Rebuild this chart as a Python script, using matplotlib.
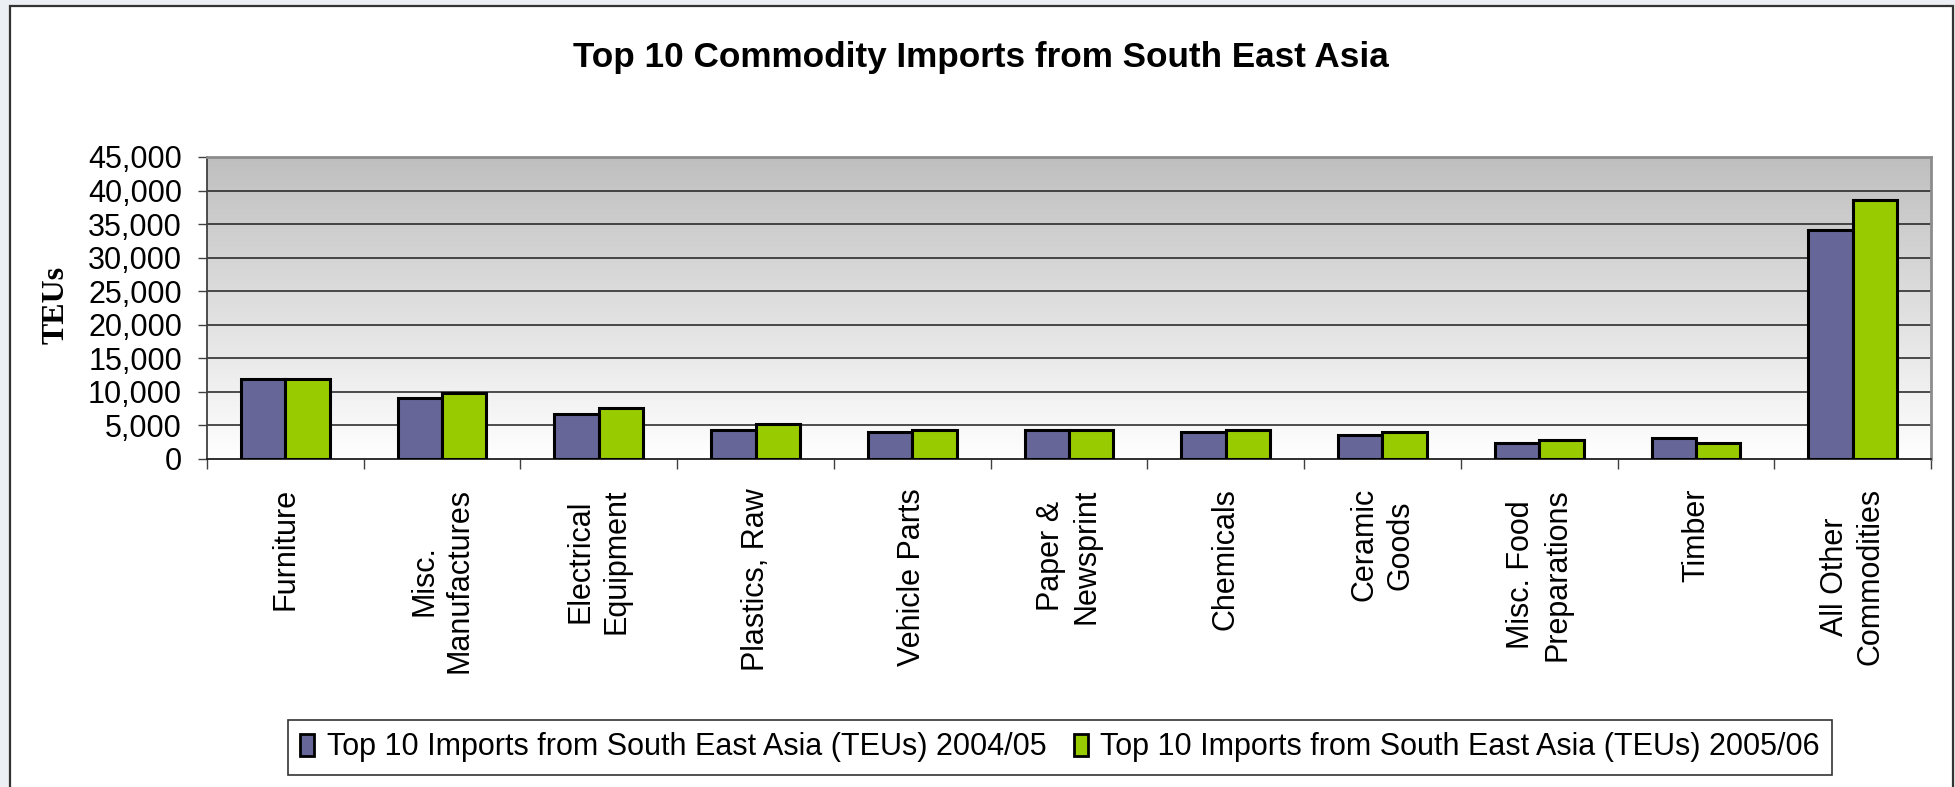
import matplotlib
matplotlib.use("Agg")
import matplotlib.pyplot as plt
import numpy as np
from matplotlib.patches import Rectangle
from matplotlib.colors import LinearSegmentedColormap
from matplotlib.ticker import FuncFormatter, FixedLocator

# ---------------- data ----------------
categories = ["Furniture", "Misc.\nManufactures", "Electrical\nEquipment", "Plastics, Raw",
              "Vehicle Parts", "Paper &\nNewsprint", "Chemicals", "Ceramic\nGoods",
              "Misc. Food\nPreparations", "Timber", "All Other\nCommodities"]
teu_2004_05 = [11900, 9150, 6700, 4300, 3950, 4350, 3950, 3550, 2350, 3150, 34150]
teu_2005_06 = [11900, 9900, 7550, 5150, 4350, 4350, 4350, 3950, 2800, 2350, 38550]
series_labels = ["Top 10 Imports from South East Asia (TEUs) 2004/05",
                 "Top 10 Imports from South East Asia (TEUs) 2005/06"]
title = "Top 10 Commodity Imports from South East Asia"
ylabel = "TEUs"
y_ticks = [0, 5000, 10000, 15000, 20000, 25000, 30000, 35000, 40000, 45000]

# ---------------- style ----------------
W, H = 1955, 787
DPI = 100
C1, C2 = "#666699", "#99CC00"
SANS = ["Liberation Sans", "DejaVu Sans"]
SERIF = ["Liberation Serif", "DejaVu Serif"]
plt.rcParams["font.family"] = SANS

fig = plt.figure(figsize=(W / DPI, H / DPI), dpi=DPI)
fig.patch.set_facecolor("#ECEFF3")

def fx(px):
    return px / W

def fy(py):
    return 1 - py / H

# chart border (white area with dark frame)
fig.patches.append(Rectangle((fx(10), fy(800)), fx(1953) - fx(10), fy(6) - fy(800),
                             transform=fig.transFigure, facecolor="white",
                             edgecolor="#333333", linewidth=1.6, zorder=-10))

ax = fig.add_axes([fx(207), fy(459), fx(1931) - fx(207), fy(157) - fy(459)])
ax.set_facecolor("none")
ax.set_zorder(1)

# gradient background
cmap = LinearSegmentedColormap.from_list("g", ["#FFFFFF", "#BFBFBF"])
grad = np.linspace(0, 1, 256).reshape(-1, 1)
ax.imshow(grad, extent=[0, 1, 0, 1], transform=ax.transAxes, origin="lower",
          aspect="auto", cmap=cmap, zorder=0)

x = np.arange(len(categories))
bw = 0.283
ax.bar(x - bw / 2, teu_2004_05, bw, color=C1, edgecolor="black", linewidth=2.2,
       zorder=3, label=series_labels[0])
ax.bar(x + bw / 2, teu_2005_06, bw, color=C2, edgecolor="black", linewidth=2.2,
       zorder=3, label=series_labels[1])

ax.set_xlim(-0.5, len(categories) - 0.5)
ax.set_ylim(0, 45000)

# grid
for v in y_ticks[1:-1]:
    ax.axhline(v, color="#1e1e1e", linewidth=1.1, zorder=1)

# spines
for s in ["top", "right"]:
    ax.spines[s].set_color("#8c8c8c")
    ax.spines[s].set_linewidth(2.0)
ax.spines["left"].set_color("#404040")
ax.spines["left"].set_linewidth(1.3)
ax.spines["bottom"].set_color("#202020")
ax.spines["bottom"].set_linewidth(1.3)

# y ticks
ax.yaxis.set_major_locator(FixedLocator(y_ticks))
ax.yaxis.set_major_formatter(FuncFormatter(lambda v, p: f"{int(v):,}"))
ax.tick_params(axis="y", direction="out", length=6.5, width=1.0, color="#404040",
               pad=11.5, labelsize=22)

# x ticks: labels at centers, tick marks at boundaries
ax.set_xticks(x)
ax.set_xticklabels(categories, rotation=90, ha="center", va="top",
                   multialignment="center", linespacing=1.25)
ax.tick_params(axis="x", which="major", length=0, pad=21, labelsize=22)
ax.xaxis.set_minor_locator(FixedLocator(np.arange(-0.5, len(categories), 1.0)))
ax.tick_params(axis="x", which="minor", direction="out", length=7.2, width=1.0,
               color="#404040")

# title & y label
fig.text(fx(981), fy(67), title, ha="center", va="baseline", fontsize=25.3,
         fontweight="bold", family=SANS)
fig.text(fx(56), fy(305), ylabel, rotation=90, ha="center", va="center",
         fontsize=23, fontweight="bold", family=SERIF)

# legend
handles = [Rectangle((0, 0), 1, 1, facecolor=C1, edgecolor="black", linewidth=2.0),
           Rectangle((0, 0), 1, 1, facecolor=C2, edgecolor="black", linewidth=2.0)]
leg = fig.legend(handles, series_labels, loc="center",
                 bbox_to_anchor=(fx(1060), fy(747.5)), ncol=2, fontsize=22.0,
                 frameon=True, fancybox=False, shadow=False,
                 handlelength=0.45, handleheight=0.7, handletextpad=0.42,
                 columnspacing=0.9, borderpad=0.4, borderaxespad=0)
leg.get_frame().set_edgecolor("black")
leg.get_frame().set_linewidth(1.2)

fig.savefig("out.png", dpi=DPI, facecolor=fig.get_facecolor())
